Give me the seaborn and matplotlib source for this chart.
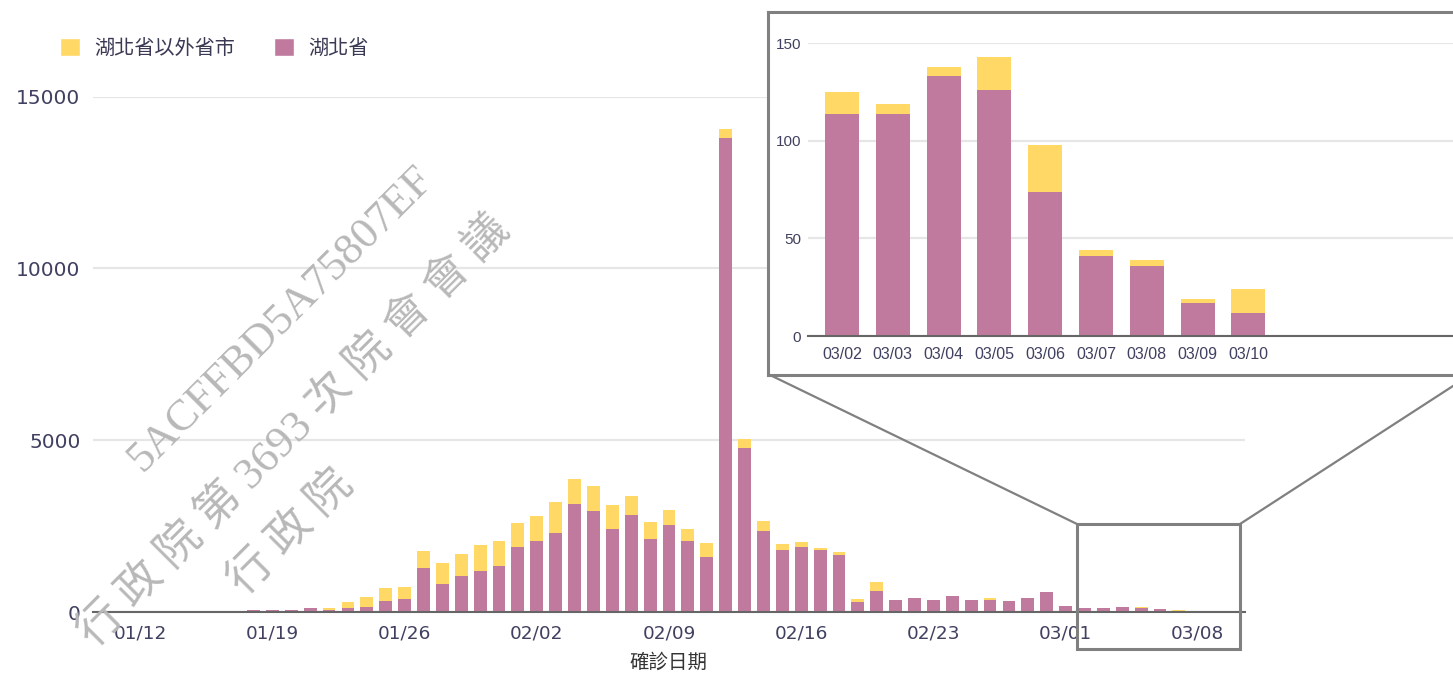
import pandas as pd
import seaborn as sns
import matplotlib.pyplot as plt
from matplotlib.patches import Patch, Rectangle
from matplotlib.lines import Line2D

# daily confirmed cases, 01/10 .. 03/10
dates = pd.date_range('2020-01-10', '2020-03-10').strftime('%m/%d').tolist()

hubei = [0, 0, 0, 0, 0, 0, 0, 0,
         65, 65, 65, 130, 65, 116, 160, 310, 365, 1280, 824, 1037, 1182, 1328,
         1899, 2064, 2310, 3140, 2945, 2422, 2820, 2112, 2529, 2064, 1608, 13790, 4760,
         2364, 1802, 1899, 1802, 1657, 295, 605, 359, 417, 359, 470, 359, 355, 310,
         417, 581,
         165, 114, 114, 133, 126, 74, 41, 36, 17, 12]

others = [0, 0, 0, 0, 0, 0, 0, 0,
          0, 0, 0, 0, 65, 164, 265, 380, 370, 484, 610, 659, 766, 726,
          679, 717, 890, 736, 718, 679, 543, 514, 427, 358, 408, 280, 290,
          281, 165, 126, 68, 78, 75, 280, 0, 0, 0, 0, 0, 52, 0,
          0, 0,
          0, 11, 5, 5, 17, 24, 3, 3, 2, 12]

legend_labels = ['湖北省以外省市', '湖北省']
x_label = '確診日期'
watermark = ['5ACFFBD5A75807EF', '行 政 院 第 3693 次 院 會 會 議', '行 政 院']

YELLOW = '#ffd866'
PURPLE = '#c07a9e'
TXT = '#404060'
GRAY = '#808080'
CJK = ['Noto Sans CJK TC', 'DejaVu Sans']
INSET_FONT = ['Liberation Sans', 'DejaVu Sans']

sns.set_style('white')
plt.rcParams['font.family'] = ['DejaVu Sans', 'Noto Sans CJK TC']

df = pd.DataFrame({'date': dates, 'hubei': hubei, 'others': others})
df['total'] = df['hubei'] + df['others']
zoom = df[df['date'] >= '03/02'].reset_index(drop=True)

W, H = 1453, 677


def px(x0, y0, x1, y1):
    return [x0 / W, 1 - y1 / H, (x1 - x0) / W, (y1 - y0) / H]


fig = plt.figure(figsize=(W / 100, H / 100), dpi=100)

# main chart
ax = fig.add_axes(px(93, 96.7, 1245, 612))
sns.barplot(data=df, x='date', y='total', color=YELLOW, saturation=1, width=0.68, linewidth=0, ax=ax)
sns.barplot(data=df, x='date', y='hubei', color=PURPLE, saturation=1, width=0.68, linewidth=0, ax=ax)
ax.set_xlim(-0.5, len(dates) - 0.5)
ax.set_ylim(0, 15000)
ax.set_yticks([0, 5000, 10000, 15000])
ax.set_xticks(range(2, len(dates), 7))
ax.set_xticklabels(dates[2::7])
ax.yaxis.grid(True, color='#e6e6e6', lw=1.6)
ax.set_axisbelow(True)
ax.tick_params(axis='x', length=0, labelsize=13.3, colors=TXT, pad=9)
ax.tick_params(axis='y', length=0, labelsize=14.5, colors=TXT, pad=9)
for s in ['top', 'right', 'left']:
    ax.spines[s].set_visible(False)
ax.spines['bottom'].set_color('#666666')
ax.spines['bottom'].set_linewidth(1.5)
ax.set_ylabel('')
ax.set_xlabel(x_label, fontsize=14, color='#333333', family=CJK, labelpad=7)

handles = [Patch(facecolor=YELLOW), Patch(facecolor=PURPLE)]
leg = fig.legend(handles, legend_labels, loc='upper left', bbox_to_anchor=(42 / W, 1 - 20 / H),
                 ncol=2, frameon=False, prop={'family': CJK, 'size': 14.5},
                 handlelength=1.0, handleheight=1.0, handletextpad=0.7, columnspacing=1.9)
for t in leg.get_texts():
    t.set_color('#3a3a55')

# zoom box and connectors
fig.add_artist(Rectangle((1077 / W, 1 - 649 / H), 163 / W, 125 / H, transform=fig.transFigure,
                         fill=False, ec=GRAY, lw=2.2, zorder=5))
fig.add_artist(Line2D([1077 / W, 770 / W], [1 - 524 / H, 1 - 375 / H], transform=fig.transFigure,
                      color=GRAY, lw=1.6, zorder=5))
fig.add_artist(Line2D([1240 / W, 1470 / W], [1 - 524 / H, 1 - 375 / H], transform=fig.transFigure,
                      color=GRAY, lw=1.6, zorder=5))

# inset frame
fr = fig.add_axes(px(768, 12, 1470, 375), zorder=3)
fr.set_facecolor('white')
fr.set_xticks([])
fr.set_yticks([])
for s in fr.spines.values():
    s.set_color(GRAY)
    s.set_linewidth(2.2)

# inset chart
ins = fig.add_axes(px(808, 43.3, 1453, 336), zorder=4)
ins.set_facecolor('none')
sns.barplot(data=zoom, x='date', y='total', color=YELLOW, saturation=1, width=0.67, linewidth=0, ax=ins)
sns.barplot(data=zoom, x='date', y='hubei', color=PURPLE, saturation=1, width=0.67, linewidth=0, ax=ins)
ins.set_xlim(-0.67, 12.03)
ins.set_ylim(0, 150)
ins.set_yticks([0, 50, 100, 150])
ins.yaxis.grid(True, color='#e6e6e6', lw=1.6)
ins.set_axisbelow(True)
ins.tick_params(axis='x', length=0, colors=TXT, pad=8)
ins.tick_params(axis='y', length=0, colors=TXT, pad=5)
for lab in ins.get_xticklabels():
    lab.set_family(INSET_FONT)
    lab.set_fontsize(11.5)
for lab in ins.get_yticklabels():
    lab.set_family(INSET_FONT)
    lab.set_fontsize(11)
for s in ['top', 'right', 'left']:
    ins.spines[s].set_visible(False)
ins.spines['bottom'].set_color('#666666')
ins.spines['bottom'].set_linewidth(1.5)
ins.set_xlabel('')
ins.set_ylabel('')

# watermark
wm_font = ['Liberation Serif', 'Noto Sans CJK TC']
for text, (cx, cy) in zip(watermark, [(281, 319), (294, 431), (291, 533)]):
    fig.text(cx / W, 1 - cy / H, text, rotation=45, rotation_mode='anchor', ha='center', va='center',
             fontsize=32, color='#b8b8b8', family=wm_font, zorder=6)

plt.savefig('out.png', format='png', dpi=100)
